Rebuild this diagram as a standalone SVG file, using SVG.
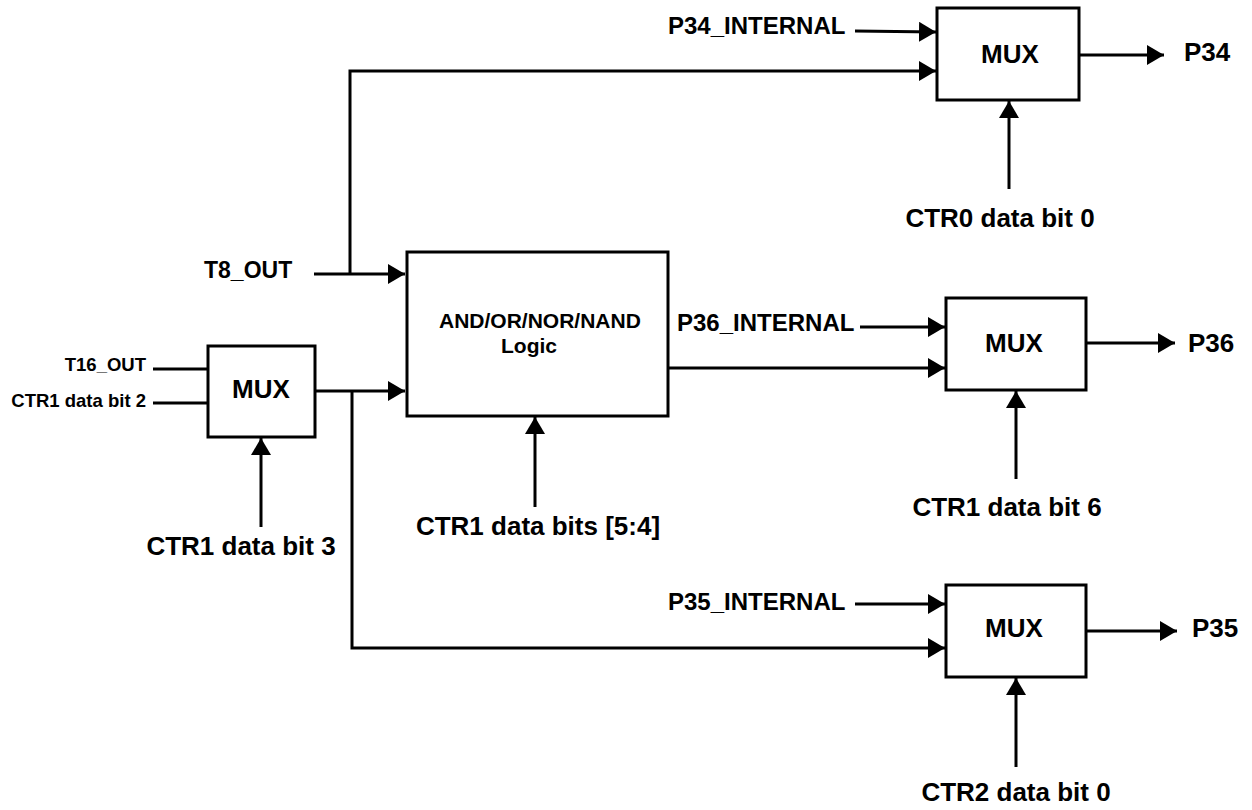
<svg xmlns="http://www.w3.org/2000/svg" width="1252" height="810" viewBox="0 0 1252 810">
<style>
text{font-family:"Liberation Sans",Arial,sans-serif;font-weight:bold;fill:#000}
.box{fill:#fff;stroke:#000;stroke-width:3}
.w{fill:none;stroke:#000;stroke-width:3}
.l26{font-size:26px}
.l24{font-size:24px}
.l23{font-size:23px}
.l21{font-size:21px}
.l18{font-size:18.5px}
</style>
<defs>
<marker id="ah" viewBox="0 0 17 20" refX="17" refY="10" markerWidth="17" markerHeight="20" markerUnits="userSpaceOnUse" orient="auto">
<path d="M0,0 L17,10 L0,20 z" fill="#000"/>
</marker>
</defs>
<rect width="1252" height="810" fill="#fff"/>
<g id="connectors">
<path class="w" d="M855,31 L936,32" marker-end="url(#ah)"/>
<path class="w" d="M350,274 V71 H936" marker-end="url(#ah)"/>
<path class="w" d="M1079,55 H1164" marker-end="url(#ah)"/>
<path class="w" d="M1009,189 V101" marker-end="url(#ah)"/>
<path class="w" d="M314,274 H405" marker-end="url(#ah)"/>
<path class="w" d="M153,369 H208"/>
<path class="w" d="M153,403 H208"/>
<path class="w" d="M315,391 H405" marker-end="url(#ah)"/>
<path class="w" d="M352,391 V648 H945" marker-end="url(#ah)"/>
<path class="w" d="M261,527 V438" marker-end="url(#ah)"/>
<path class="w" d="M668,368 H945" marker-end="url(#ah)"/>
<path class="w" d="M535,507 V417" marker-end="url(#ah)"/>
<path class="w" d="M860,327 H945" marker-end="url(#ah)"/>
<path class="w" d="M1086,343 H1175" marker-end="url(#ah)"/>
<path class="w" d="M1016,479 V391" marker-end="url(#ah)"/>
<path class="w" d="M855,604 H945" marker-end="url(#ah)"/>
<path class="w" d="M1086,631 H1177" marker-end="url(#ah)"/>
<path class="w" d="M1016,767 V678" marker-end="url(#ah)"/>
</g>
<g id="mux-p34">
<rect class="box" x="937" y="8" width="142" height="92"/>
<text class="l26" x="1010" y="63" text-anchor="middle">MUX</text>
</g>
<g id="mux-in">
<rect class="box" x="208" y="346" width="107" height="91"/>
<text class="l26" x="261" y="398" text-anchor="middle">MUX</text>
</g>
<g id="logic">
<rect class="box" x="407" y="252" width="261" height="164"/>
<text class="l21" x="439" y="328">AND/OR/NOR/NAND</text>
<text class="l21" x="501" y="353">Logic</text>
</g>
<g id="mux-p36">
<rect class="box" x="946" y="298" width="140" height="92"/>
<text class="l26" x="1014" y="352" text-anchor="middle">MUX</text>
</g>
<g id="mux-p35">
<rect class="box" x="946" y="585" width="140" height="92"/>
<text class="l26" x="1014" y="637" text-anchor="middle">MUX</text>
</g>
<g id="labels">
<text class="l24" x="668" y="34">P34_INTERNAL</text>
<text class="l26" x="1184" y="61">P34</text>
<text class="l26" x="1000" y="227" text-anchor="middle">CTR0 data bit 0</text>
<text class="l23" x="204" y="278">T8_OUT</text>
<text class="l18" x="146" y="371" text-anchor="end">T16_OUT</text>
<text class="l18" x="146" y="407" text-anchor="end">CTR1 data bit 2</text>
<text class="l26" x="241" y="555" text-anchor="middle">CTR1 data bit 3</text>
<text class="l26" x="538" y="535" text-anchor="middle">CTR1 data bits [5:4]</text>
<text class="l24" x="677" y="331">P36_INTERNAL</text>
<text class="l26" x="1188" y="352">P36</text>
<text class="l26" x="1007" y="516" text-anchor="middle">CTR1 data bit 6</text>
<text class="l24" x="668" y="610">P35_INTERNAL</text>
<text class="l26" x="1192" y="637">P35</text>
<text class="l26" x="1016" y="801" text-anchor="middle">CTR2 data bit 0</text>
</g>
</svg>
